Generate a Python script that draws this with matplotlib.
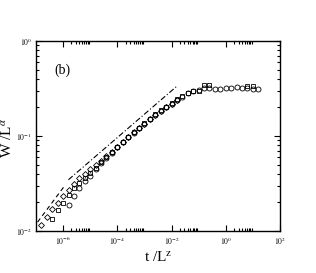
import matplotlib
matplotlib.use("Agg")
import matplotlib.pyplot as plt
from matplotlib.ticker import FixedLocator, NullFormatter

plt.rcParams['font.family'] = ['Liberation Serif', 'DejaVu Serif']
plt.rcParams['mathtext.fontset'] = 'stix'

# circles
t_circ = [1.58e-6, 2.51e-6, 3.98e-6, 6.31e-6, 1e-5, 1.58e-5, 2.51e-5, 3.98e-5, 6.31e-5,
          1e-4, 1.58e-4, 2.51e-4, 3.98e-4, 6.31e-4, 1e-3, 1.58e-3, 2.51e-3, 3.98e-3, 6.31e-3,
          1e-2, 1.58e-2, 2.51e-2, 3.98e-2, 6.31e-2, 0.1, 0.158, 0.251, 0.398, 0.631,
          1.0, 1.58, 2.51, 3.98, 6.31, 10.0, 15.8]
w_circ = [0.0187, 0.0232, 0.0281, 0.0332, 0.0383, 0.0448, 0.0524, 0.0590, 0.0665,
          0.0759, 0.0855, 0.0964, 0.1087, 0.121, 0.135, 0.150, 0.168, 0.185, 0.200,
          0.218, 0.237, 0.255, 0.284, 0.298, 0.305, 0.316, 0.320, 0.312, 0.312,
          0.316, 0.320, 0.324, 0.316, 0.316, 0.312, 0.312]

# squares
t_sq = [3.98e-7, 6.31e-7, 1e-6, 1.58e-6, 2.51e-6, 3.98e-6, 6.31e-6, 1e-5, 1.58e-5,
        2.51e-5, 3.98e-5, 6.31e-5, 1e-4, 1.58e-4, 2.51e-4, 3.98e-4, 6.31e-4, 1e-3,
        1.58e-3, 2.51e-3, 3.98e-3, 6.31e-3, 1e-2, 1.58e-2, 2.51e-2, 3.98e-2, 6.31e-2,
        0.1, 0.158, 0.251, 6.31, 10.0]
w_sq = [0.0133, 0.0165, 0.0197, 0.0237, 0.0282, 0.0322, 0.0365, 0.0412, 0.0464,
        0.0530, 0.0600, 0.0675, 0.0770, 0.0865, 0.0975, 0.110, 0.122, 0.137,
        0.152, 0.170, 0.187, 0.204, 0.222, 0.243, 0.263, 0.280, 0.295,
        0.300, 0.342, 0.342, 0.336, 0.336]

# diamonds
t_dia = [1.58e-7, 2.51e-7, 3.98e-7, 6.31e-7, 1e-6, 1.58e-6, 2.51e-6, 3.98e-6, 6.31e-6,
         1e-5, 1.58e-5, 2.51e-5, 3.98e-5, 6.31e-5, 1e-4, 1.58e-4, 2.51e-4, 3.98e-4,
         6.31e-4, 1e-3, 1.58e-3, 2.51e-3, 3.98e-3, 6.31e-3, 1e-2, 1.58e-2]
w_dia = [0.01155, 0.0141, 0.0169, 0.0199, 0.0233, 0.0267, 0.0309, 0.0357, 0.0402,
         0.0453, 0.0499, 0.0549, 0.0611, 0.0681, 0.0768, 0.0860, 0.0968, 0.109,
         0.121, 0.135, 0.151, 0.168, 0.185, 0.201, 0.219, 0.238]

# guide lines
t_dash = [1.14e-7, 1.09e-6]
w_dash = [0.0124, 0.0294]
t_dashdot = [1.57e-6, 1.63e-2]
w_dashdot = [0.0346, 0.337]

fig = plt.figure(figsize=(3.16, 2.73), dpi=100)
ax = fig.add_axes([0.114, 0.154, 0.772, 0.696])

mk = dict(linestyle='none', markerfacecolor='none', markeredgecolor='black',
          markeredgewidth=0.6)
ax.plot(t_dia, w_dia, marker='D', markersize=3.0, **mk)
ax.plot(t_sq, w_sq, marker='s', markersize=3.3, **mk)
ax.plot(t_circ, w_circ, marker='o', markersize=3.6, **mk)

ax.plot(t_dash, w_dash, color='black', linestyle=(0, (4, 3)), linewidth=0.8)
ax.plot(t_dashdot, w_dashdot, color='black', linestyle=(0, (5, 2, 1, 2)), linewidth=0.8)

ax.set_xscale('log')
ax.set_yscale('log')
ax.set_xlim(1e-7, 1e2)
ax.set_ylim(1e-2, 1e0)

xmaj = [1e-6, 1e-4, 1e-2, 1e0, 1e2]
xmin = [k * 10.0 ** e for e in (-6, -4, -2, 0) for k in range(2, 10)]
ax.xaxis.set_major_locator(FixedLocator(xmaj))
ax.xaxis.set_minor_locator(FixedLocator(xmin))
ax.set_xticklabels(['$10^{-6}$', '$10^{-4}$', '$10^{-2}$', '$10^{0}$', '$10^{2}$'])
ax.xaxis.set_minor_formatter(NullFormatter())

ax.yaxis.set_major_locator(FixedLocator([1e-2, 1e-1, 1e0]))
ymin = [k * 10.0 ** e for e in (-2, -1) for k in range(2, 10)]
ax.yaxis.set_minor_locator(FixedLocator(ymin))
ax.set_yticklabels(['$10^{-2}$', '$10^{-1}$', '$10^{0}$'])
ax.yaxis.set_minor_formatter(NullFormatter())

ax.tick_params(which='both', direction='in', top=True, right=True, labelsize=5.5,
               width=0.8, pad=3)
ax.tick_params(which='major', length=4)
ax.tick_params(which='minor', length=2)
for s in ax.spines.values():
    s.set_linewidth(1.0)

ax.text(0.075, 0.845, '(b)', transform=ax.transAxes, fontsize=10, va='center')
ax.set_xlabel(r't /L$^{\rm z}$', fontsize=11, labelpad=2)
ax.set_ylabel(r'W /L$^{\alpha}$', fontsize=11)
ax.yaxis.set_label_coords(-0.085, 0.49)

fig.savefig('out.png', dpi=100)
